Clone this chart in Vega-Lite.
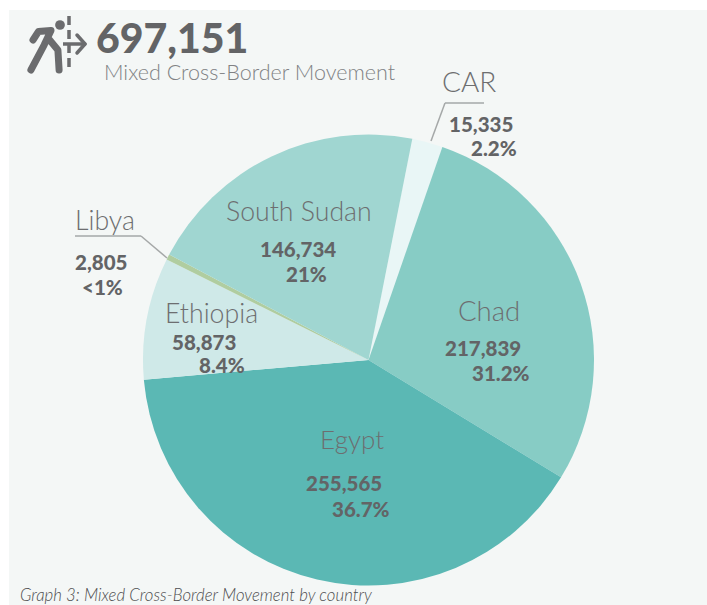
{"$schema":"https://vega.github.io/schema/vega-lite/v6.json","width":698,"height":595,"autosize":"none","padding":{"left":9,"top":10,"right":0,"bottom":0},"background":"#ffffff","config":{"view":{"fill":"#f4f7f6","stroke":null},"text":{"font":"Lato"}},
"data":{"values":[
{"country":"CAR","rank":1,"drawn":2.2,"count":"15,335","pct":"2.2%"},
{"country":"Chad","rank":2,"drawn":28.4,"count":"217,839","pct":"31.2%"},
{"country":"Egypt","rank":3,"drawn":39.9,"count":"255,565","pct":"36.7%"},
{"country":"Ethiopia","rank":4,"drawn":8.75,"count":"58,873","pct":"8.4%"},
{"country":"Libya","rank":5,"drawn":0.38,"count":"2,805","pct":"<1%"},
{"country":"South Sudan","rank":6,"drawn":20.37,"count":"146,734","pct":"21%"}]},
"encoding":{"x":{"datum":368.5,"type":"quantitative","scale":{"domain":[9,707]},"axis":null},"y":{"datum":360,"type":"quantitative","scale":{"domain":[10,605],"reverse":true},"axis":null}},
"layer":[
{"mark":{"type":"arc","radius":225.5},"encoding":{"theta":{"field":"drawn","type":"quantitative","stack":true,"scale":{"domain":[0,100],"range":[0.1955,6.4787]}},"order":{"field":"rank"},"color":{"field":"country","type":"nominal","legend":null,"scale":{"domain":["CAR","Chad","Egypt","Ethiopia","Libya","South Sudan"],"range":["#e9f6f6","#87ccc5","#5bb8b4","#cfe9e8","#b0cda0","#a0d6d1"]}}}},
{"data":{"values":[{"a":1}]},"mark":{"type":"rule","stroke":"#a5a8a8","strokeWidth":1.5},"encoding":{"x":{"datum":431},"y":{"datum":141},"x2":{"datum":445},"y2":{"datum":103}}},
{"data":{"values":[{"a":1}]},"mark":{"type":"rule","stroke":"#a5a8a8","strokeWidth":1.5},"encoding":{"x":{"datum":445},"y":{"datum":103},"x2":{"datum":484},"y2":{"datum":103}}},
{"data":{"values":[{"a":1}]},"mark":{"type":"rule","stroke":"#a5a8a8","strokeWidth":1.5},"encoding":{"x":{"datum":75},"y":{"datum":236},"x2":{"datum":141},"y2":{"datum":236}}},
{"data":{"values":[{"a":1}]},"mark":{"type":"rule","stroke":"#a5a8a8","strokeWidth":1.5},"encoding":{"x":{"datum":141},"y":{"datum":236},"x2":{"datum":167},"y2":{"datum":258}}},
{"data":{"values":[{"a":1}]},"mark":{"type":"rule","stroke":"#6b6c6e","strokeWidth":3.5,"strokeDash":[9,5]},"encoding":{"x":{"datum":69},"y":{"datum":16},"x2":{"datum":69},"y2":{"datum":71}}},
{"data":{"values":[{"a":1}]},"mark":{"type":"rule","stroke":"#6b6c6e","strokeWidth":3.5},"encoding":{"x":{"datum":63},"y":{"datum":44},"x2":{"datum":85},"y2":{"datum":44}}},
{"data":{"values":[{"a":1}]},"mark":{"type":"rule","stroke":"#6b6c6e","strokeWidth":3.5,"strokeCap":"round"},"encoding":{"x":{"datum":77},"y":{"datum":35},"x2":{"datum":85},"y2":{"datum":44}}},
{"data":{"values":[{"a":1}]},"mark":{"type":"rule","stroke":"#6b6c6e","strokeWidth":3.5,"strokeCap":"round"},"encoding":{"x":{"datum":77},"y":{"datum":53},"x2":{"datum":85},"y2":{"datum":44}}},
{"data":{"values":[{"a":1}]},"mark":{"type":"point","filled":true,"fill":"#6b6c6e","opacity":1,"shape":"circle","size":95},"encoding":{"x":{"datum":60},"y":{"datum":25}}},
{"data":{"values":[{"a":1}]},"mark":{"type":"point","filled":false,"stroke":"#6b6c6e","fill":null,"strokeWidth":7,"strokeCap":"round","strokeJoin":"round","opacity":1,"size":3600,"shape":"M-.8 -.1L-.62 -.38L-.2 -.42L-.43 .07L-.87 .9M-.3 -.17L.03 .23L.07 .9"},"encoding":{"x":{"datum":57},"y":{"datum":43}}},
{"data":{"values":[{"t":"697,151"}]},"mark":{"type":"text","align":"left","baseline":"alphabetic","fontSize":41,"fontWeight":900,"fill":"#636466"},"encoding":{"text":{"field":"t"},"x":{"datum":96},"y":{"datum":53}}},
{"data":{"values":[{"t":"Mixed Cross-Border Movement"}]},"mark":{"type":"text","align":"left","baseline":"alphabetic","fontSize":21.5,"fontWeight":300,"fill":"#808284"},"encoding":{"text":{"field":"t"},"x":{"datum":104},"y":{"datum":80}}},
{"data":{"values":[{"t":"Graph 3: Mixed Cross-Border Movement by country"}]},"mark":{"type":"text","align":"left","baseline":"alphabetic","fontSize":16.8,"fontStyle":"italic","fontWeight":300,"fill":"#4d4d4f"},"encoding":{"text":{"field":"t"},"x":{"datum":20},"y":{"datum":601}}},
{"transform":[{"filter":"datum.country=='CAR'"}],"mark":{"type":"text","align":"left","baseline":"alphabetic","fontSize":28,"fontWeight":300,"fill":"#6d6e70"},"encoding":{"text":{"field":"country"},"x":{"datum":442},"y":{"datum":92}}},
{"transform":[{"filter":"datum.country=='CAR'"}],"mark":{"type":"text","align":"left","baseline":"alphabetic","fontSize":20.5,"fontWeight":900,"fill":"#636466"},"encoding":{"text":{"field":"count"},"x":{"datum":449},"y":{"datum":132}}},
{"transform":[{"filter":"datum.country=='CAR'"}],"mark":{"type":"text","align":"left","baseline":"alphabetic","fontSize":20.5,"fontWeight":900,"fill":"#636466"},"encoding":{"text":{"field":"pct"},"x":{"datum":471},"y":{"datum":156}}},
{"transform":[{"filter":"datum.country=='Libya'"}],"mark":{"type":"text","align":"left","baseline":"alphabetic","fontSize":26.7,"fontWeight":300,"fill":"#6d6e70"},"encoding":{"text":{"field":"country"},"x":{"datum":75},"y":{"datum":230}}},
{"transform":[{"filter":"datum.country=='Libya'"}],"mark":{"type":"text","align":"left","baseline":"alphabetic","fontSize":20.5,"fontWeight":900,"fill":"#636466"},"encoding":{"text":{"field":"count"},"x":{"datum":75},"y":{"datum":270}}},
{"transform":[{"filter":"datum.country=='Libya'"}],"mark":{"type":"text","align":"left","baseline":"alphabetic","fontSize":20.5,"fontWeight":900,"fill":"#636466"},"encoding":{"text":{"field":"pct"},"x":{"datum":82},"y":{"datum":295}}},
{"transform":[{"filter":"datum.country=='South Sudan'"}],"mark":{"type":"text","align":"left","baseline":"alphabetic","fontSize":26.7,"fontWeight":300,"fill":"#6d6e70"},"encoding":{"text":{"field":"country"},"x":{"datum":226},"y":{"datum":221}}},
{"transform":[{"filter":"datum.country=='South Sudan'"}],"mark":{"type":"text","align":"left","baseline":"alphabetic","fontSize":20.5,"fontWeight":900,"fill":"#636466"},"encoding":{"text":{"field":"count"},"x":{"datum":260},"y":{"datum":257}}},
{"transform":[{"filter":"datum.country=='South Sudan'"}],"mark":{"type":"text","align":"left","baseline":"alphabetic","fontSize":20.5,"fontWeight":900,"fill":"#636466"},"encoding":{"text":{"field":"pct"},"x":{"datum":286},"y":{"datum":282}}},
{"transform":[{"filter":"datum.country=='Ethiopia'"}],"mark":{"type":"text","align":"left","baseline":"alphabetic","fontSize":26.7,"fontWeight":300,"fill":"#6d6e70"},"encoding":{"text":{"field":"country"},"x":{"datum":165},"y":{"datum":323}}},
{"transform":[{"filter":"datum.country=='Ethiopia'"}],"mark":{"type":"text","align":"left","baseline":"alphabetic","fontSize":20.5,"fontWeight":900,"fill":"#636466"},"encoding":{"text":{"field":"count"},"x":{"datum":172},"y":{"datum":350}}},
{"transform":[{"filter":"datum.country=='Ethiopia'"}],"mark":{"type":"text","align":"left","baseline":"alphabetic","fontSize":20.5,"fontWeight":900,"fill":"#636466"},"encoding":{"text":{"field":"pct"},"x":{"datum":199},"y":{"datum":373}}},
{"transform":[{"filter":"datum.country=='Chad'"}],"mark":{"type":"text","align":"left","baseline":"alphabetic","fontSize":27.5,"fontWeight":300,"fill":"#6d6e70"},"encoding":{"text":{"field":"country"},"x":{"datum":458},"y":{"datum":321}}},
{"transform":[{"filter":"datum.country=='Chad'"}],"mark":{"type":"text","align":"left","baseline":"alphabetic","fontSize":20.5,"fontWeight":900,"fill":"#636466"},"encoding":{"text":{"field":"count"},"x":{"datum":445},"y":{"datum":356}}},
{"transform":[{"filter":"datum.country=='Chad'"}],"mark":{"type":"text","align":"left","baseline":"alphabetic","fontSize":20.5,"fontWeight":900,"fill":"#636466"},"encoding":{"text":{"field":"pct"},"x":{"datum":472},"y":{"datum":381}}},
{"transform":[{"filter":"datum.country=='Egypt'"}],"mark":{"type":"text","align":"left","baseline":"alphabetic","fontSize":26,"fontWeight":300,"fill":"#6d6e70"},"encoding":{"text":{"field":"country"},"x":{"datum":320},"y":{"datum":449}}},
{"transform":[{"filter":"datum.country=='Egypt'"}],"mark":{"type":"text","align":"left","baseline":"alphabetic","fontSize":20.5,"fontWeight":900,"fill":"#636466"},"encoding":{"text":{"field":"count"},"x":{"datum":306},"y":{"datum":491}}},
{"transform":[{"filter":"datum.country=='Egypt'"}],"mark":{"type":"text","align":"left","baseline":"alphabetic","fontSize":20.5,"fontWeight":900,"fill":"#636466"},"encoding":{"text":{"field":"pct"},"x":{"datum":332},"y":{"datum":517}}}
]}
